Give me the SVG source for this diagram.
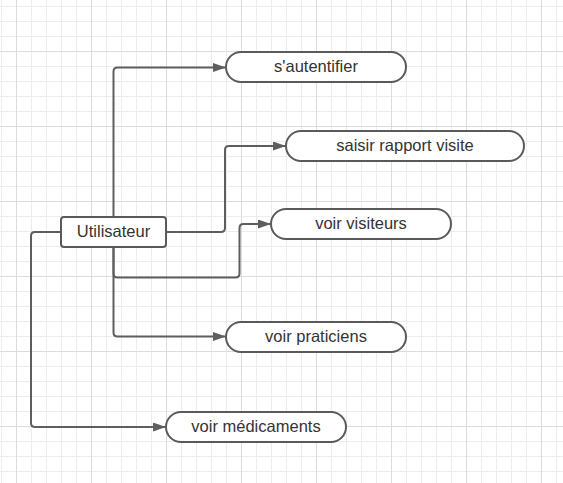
<svg xmlns="http://www.w3.org/2000/svg" width="563" height="483" viewBox="0 0 563 483">
<style>
.node rect{fill:#ffffff;stroke:#5a5a5a;stroke-width:2}
.node text{font-family:"Liberation Sans",Arial,sans-serif;font-size:16.5px;fill:#333333;text-anchor:middle;dominant-baseline:central}
.conn path{fill:none;stroke:#5e5e5e;stroke-width:2;marker-end:url(#arr)}
</style>
<defs>
<pattern id="minor" width="15" height="15" patternUnits="userSpaceOnUse" x="1" y="6">
<path d="M0.5 0V15M0 0.5H15" fill="none" stroke="#ececec" stroke-width="1"/>
</pattern>
<pattern id="major" width="75" height="75" patternUnits="userSpaceOnUse" x="16" y="51">
<path d="M0.5 0V75M0 0.5H75" fill="none" stroke="#dcdcdc" stroke-width="1"/>
</pattern>
<marker id="arr" markerWidth="13" markerHeight="9" refX="12" refY="4.5" orient="auto" markerUnits="userSpaceOnUse">
<path d="M0 0L13 4.5L0 9Z" fill="#5e5e5e"/>
</marker>
</defs>
<rect width="563" height="483" fill="#ffffff"/>
<rect width="563" height="483" fill="url(#minor)"/>
<rect width="563" height="483" fill="url(#major)"/>
<g id="connectors" class="conn">
<path d="M113.5 217V71.5Q113.5 67.5 117.5 67.5H225"/>
<path d="M166 232H221Q225 232 225 228V150Q225 146 229 146H285"/>
<path d="M113.5 247V273.5Q113.5 277.5 117.5 277.5H235.5Q239.5 277.5 239.5 273.5V228Q239.5 224 243.5 224H270"/>
<path d="M113.5 247V332.5Q113.5 336.5 117.5 336.5H225"/>
<path d="M61 232H35Q31 232 31 236V423Q31 427 35 427H165"/>
</g>
<g id="utilisateur" class="node">
<rect x="61" y="217" width="105" height="30" rx="3"/>
<text x="113.5" y="231">Utilisateur</text>
</g>
<g id="sautentifier" class="node">
<rect x="226" y="52" width="180" height="30" rx="15"/>
<text x="316" y="66">s'autentifier</text>
</g>
<g id="saisir" class="node">
<rect x="286" y="131" width="238" height="30" rx="15"/>
<text x="405" y="145">saisir rapport visite</text>
</g>
<g id="visiteurs" class="node">
<rect x="271" y="209" width="180" height="30" rx="15"/>
<text x="361" y="223">voir visiteurs</text>
</g>
<g id="praticiens" class="node">
<rect x="226" y="322" width="180" height="30" rx="15"/>
<text x="316" y="336">voir praticiens</text>
</g>
<g id="medicaments" class="node">
<rect x="166" y="412" width="180" height="30" rx="15"/>
<text x="256" y="426">voir médicaments</text>
</g>
</svg>
